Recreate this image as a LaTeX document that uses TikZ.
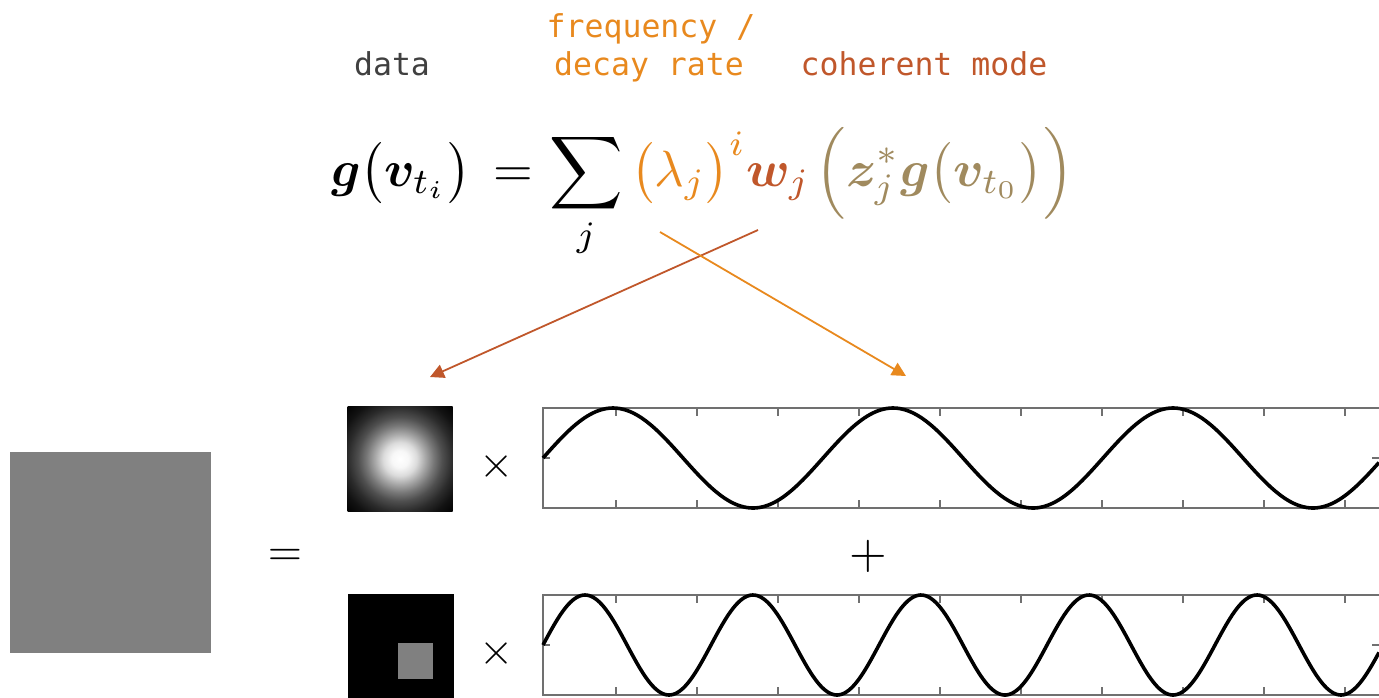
\documentclass[tikz,border=0pt]{standalone}
\usepackage{amsmath,bm}
\usepackage{fontspec}
\setmonofont{DejaVu Sans Mono}
\usetikzlibrary{arrows.meta}
\definecolor{cOrange}{HTML}{E8891E}
\definecolor{cRust}{HTML}{C0572B}
\definecolor{cKhaki}{HTML}{A08A5E}
\definecolor{cData}{HTML}{404040}
\definecolor{cAxis}{HTML}{707070}
\definecolor{cGray}{HTML}{808080}
\pgfdeclareradialshading{blob}{\pgfpoint{0bp}{0bp}}{color(0bp)=(white); color(4bp)=(white!97!black); color(8bp)=(white!86!black); color(12bp)=(white!66!black); color(16bp)=(white!47!black); color(20bp)=(white!31!black); color(25bp)=(white!17!black); color(30bp)=(white!7!black); color(36bp)=(black); color(50bp)=(black)}
\begin{document}
\begin{tikzpicture}[x=1pt,y=-1pt,
  lbl/.style={font=\fontsize{31.5}{38}\selectfont\ttfamily, inner sep=0, anchor=base},
  eqpart/.style={inner sep=0, anchor=base west, scale=5.1},
  wave/.style={line width=3.6pt, black, line join=round},
  frame/.style={cAxis, line width=1.4pt},
  tick/.style={cAxis, line width=1.2pt},
  arr/.style={line width=1.8pt, -{Triangle[length=14pt,width=14pt]}},
  op/.style={inner sep=0, scale=4.4}]
\useasboundingbox (0,0) rectangle (1379,697);

% labels
\node[lbl, text=cData] (tdata) at (392,75) {data};
\node[lbl, text=cOrange] (tfreqa) at (651,37) {frequency /};
\node[lbl, text=cOrange] (tfreqb) at (649,75) {decay rate};
\node[lbl, text=cRust] (tmode) at (924,75) {coherent mode};

% equation
\node[eqpart] (eql) at (330,186)
 {$\bm{g}\bigl(\bm{v}_{t_i}\bigr)\,=$};
\node[eqpart] (eqr) at (548,186)
 {$\displaystyle \sum_j \textcolor{cOrange}{\bigl(\lambda_j\bigr)^{i}}\textcolor{cRust}{\bm{w}_j}\mkern2mu\textcolor{cKhaki}{\Bigl(\bm{z}_j^{*}\bm{g}\bigl(\bm{v}_{t_0}\bigr)\Bigr)}$};

% arrows
\coordinate (lamsrc) at (660,232);
\coordinate (wsrc) at (758,230);
\coordinate (wavetip) at (906,376);
\coordinate (blobtip) at (430,377);
\draw[arr, cRust] (wsrc) -- (blobtip);
\draw[arr, cOrange] (lamsrc) -- (wavetip);

% data image
\node[fill=cGray, minimum size=201pt, inner sep=0] (dataimg) at (110.5,552.5) {};
\node[op] (eqsign) at (285,557) {$=$};

% mode 1
\node[shade, shading=blob, minimum size=105pt, inner sep=0] (blob) at (400,459) {};
\node[op] (times1) at (497,466) {$\times$};
% mode 2
\node[fill=black, minimum size=106pt, inner sep=0] (sq) at (400.5,647) {};
\node[fill=cGray, minimum width=35pt, minimum height=36pt, inner sep=0] (sqin) at (415.5,661) {};
\node[op] (times2) at (497,653) {$\times$};

\node[op, scale=1.1] (plus) at (868,556) {$+$};

% plot 1 frame
\draw[frame] (1385,408) -- (543,408) -- (543,508) -- (1385,508);
\foreach \t in {616,697,778,859,940,1021,1102,1183,1264,1345}{
  \draw[tick] (\t,408) -- (\t,416);
  \draw[tick] (\t,508) -- (\t,500);
}
\draw[tick] (543,458) -- (550,458);
\draw[tick] (1379,458) -- (1372,458);
\draw[wave] plot[domain=543:1379, samples=300, smooth] (\x, {458 - 50*sin((\x-543)*1.285714)});

% plot 2 frame
\draw[frame] (1385,595) -- (543,595) -- (543,695) -- (1385,695);
\foreach \t in {616,697,778,859,940,1021,1102,1183,1264,1345}{
  \draw[tick] (\t,595) -- (\t,603);
  \draw[tick] (\t,695) -- (\t,687);
}
\draw[tick] (543,645) -- (550,645);
\draw[tick] (1379,645) -- (1372,645);
\draw[wave] plot[domain=543:1379, samples=400, smooth] (\x, {645 - 50*sin((\x-543)*2.142857)});
\end{tikzpicture}
\end{document}
